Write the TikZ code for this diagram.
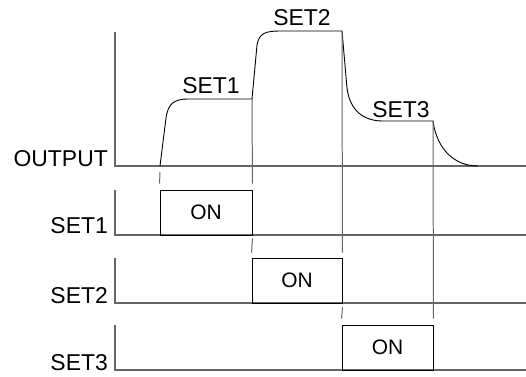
\documentclass[tikz,border=0pt]{standalone}
\usepackage{fontspec}
\setmainfont{Liberation Sans}
\tikzset{
  axisline/.style={draw=black!60, line width=1.2pt},
  wave/.style={draw=black, line width=0.9pt},
  guide/.style={draw=black!60, line width=1pt},
  onbox/.style={draw=black, line width=0.9pt, minimum width=#1, minimum height=45bp,
    inner sep=0pt, font=\fontsize{21}{23}\selectfont},
  lbl/.style={font=\fontsize{23}{25}\selectfont, inner sep=0pt}
}

\begin{document}
\begin{tikzpicture}[x=1bp,y=-1bp]
\useasboundingbox (0,0) rectangle (526,376);
% axes
\draw[axisline] (115,32) -- (115,166) -- (526,166);
\draw[axisline] (115,190) -- (115,235) -- (526,235);
\draw[axisline] (115,258) -- (115,303) -- (526,303);
\draw[axisline] (115,325) -- (115,370) -- (526,370);
% output response
\draw[wave] (160,166) coordinate (s1) -- (166,118)
  .. controls (168,103) and (175,99) .. (188,99) -- (252,99) coordinate (e1)
  -- (257,45) .. controls (259,33) and (266,31) .. (280,31) -- (342,31) coordinate (e2)
  -- (347,88) .. controls (350,112) and (365,121) .. (383,121) -- (433,121) coordinate (e3)
  .. controls (437,150) and (455,166) .. (478,166);
% on periods
\node[onbox=92bp] (on1) at (206,212.5) {ON};
\node[onbox=90bp] (on2) at (297,280.5) {ON};
\node[onbox=91bp] (on3) at (387.5,347.5) {ON};
% guides
\draw[guide] ([yshift=-6bp]s1) -- ([yshift=6bp]on1.north west);
\draw[guide] (e1) -- ([yshift=6bp]on1.north east);
\draw[guide] ([yshift=-3bp]on1.south east) -- ([yshift=5bp]on2.north west);
\draw[guide] (e2) -- ([yshift=5bp]on2.north east);
\draw[guide] ([yshift=-4bp]on2.south east) -- ([yshift=6bp]on3.north west);
\draw[guide] (e3) -- ([yshift=6bp]on3.north east);
% labels
\node[lbl, anchor=base east] (lout) at (108,166) {OUTPUT};
\node[lbl, anchor=base east] (lset1) at (108,233) {SET1};
\node[lbl, anchor=base east] (lset2) at (108,303) {SET2};
\node[lbl, anchor=base east] (lset3) at (108,370) {SET3};
\node[lbl, anchor=base] (cset1) at (211,93) {SET1};
\node[lbl, anchor=base] (cset2) at (302,25) {SET2};
\node[lbl, anchor=base] (cset3) at (401,117) {SET3};
\end{tikzpicture}
\end{document}
